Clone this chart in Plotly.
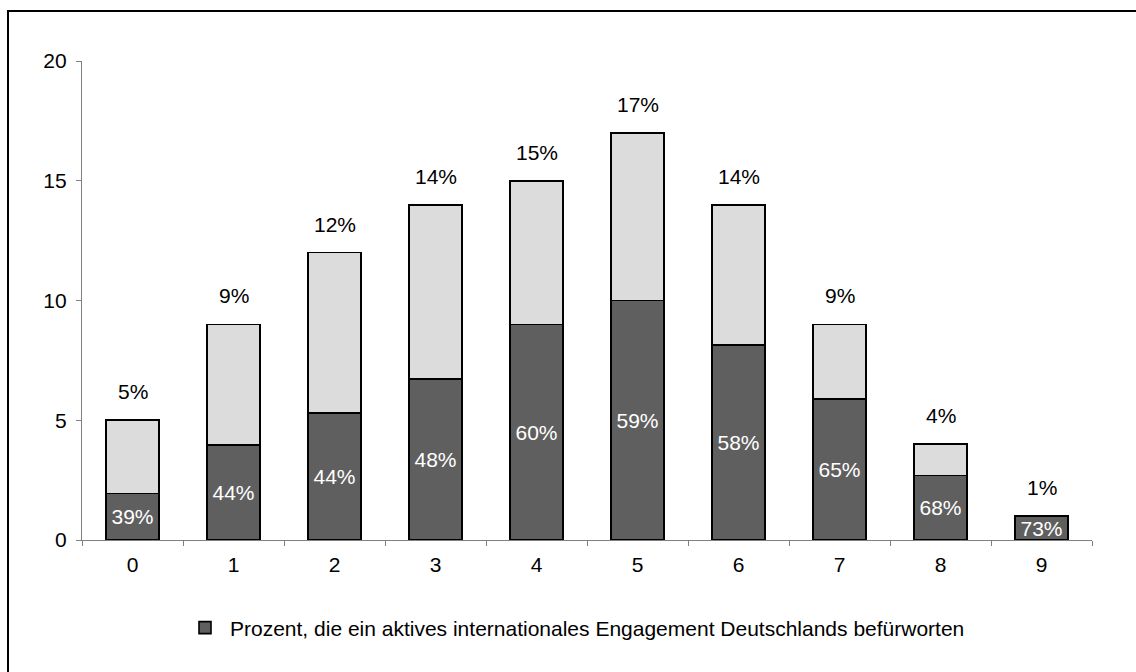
import plotly.graph_objects as go

# Scale points 0..9 with the share of respondents at each point (bar height, %)
categories = ["0", "1", "2", "3", "4", "5", "6", "7", "8", "9"]
total_share = [5, 9, 12, 14, 15, 17, 14, 9, 4, 1]
# Percentage within each group supporting an active international engagement
support_pct = [39, 44, 44, 48, 60, 59, 58, 65, 68, 73]
# Height of the dark segment as drawn
support_height = [1.95, 3.96, 5.3, 6.72, 9.0, 10.0, 8.15, 5.9, 2.7, 1.0]
rest_height = [t - s for t, s in zip(total_share, support_height)]

FONT = "Liberation Sans, Arial, sans-serif"
FS = 21
DARK = "#5f5f5f"
LIGHT = "#dcdcdc"

fig = go.Figure()
fig.add_trace(go.Bar(
    x=categories, y=support_height,
    name="Prozent, die ein aktives internationales Engagement Deutschlands befürworten",
    marker=dict(color=DARK, line=dict(color="black", width=1.6)),
    text=[f"{p}%" for p in support_pct],
    textposition="inside", insidetextanchor="middle",
    textfont=dict(color="white", size=FS, family=FONT),
    constraintext="none",
    hoverinfo="skip",
))
fig.add_trace(go.Bar(
    x=categories, y=rest_height,
    marker=dict(color=LIGHT, line=dict(color="black", width=1.6)),
    showlegend=False, hoverinfo="skip",
))

# Totals above each bar
for c, t in zip(categories, total_share):
    fig.add_annotation(x=c, y=t, text=f"{t}%", showarrow=False,
                       yanchor="bottom", yshift=15,
                       font=dict(size=FS, color="black", family=FONT))

# Outer frame around the whole chart
W, L, R, T, B = 1136, 82, 44, 61, 132
pw, ph = W - L - R, 672 - T - B
fig.add_shape(type="rect", xref="paper", yref="paper",
              x0=(8 - L) / pw, x1=(1150 - L) / pw,
              y0=-(B + 20) / ph, y1=(540 - 11) / ph,
              line=dict(color="black", width=2), fillcolor="rgba(0,0,0,0)")

fig.update_layout(
    width=1136, height=672,
    barmode="stack", bargap=0.48,
    paper_bgcolor="white", plot_bgcolor="white",
    margin=dict(l=L, r=R, t=T, b=B),
    font=dict(family=FONT, size=FS, color="black"),
    showlegend=True,
    legend=dict(x=(180 - L) / pw, y=-(628 - 540) / ph, xanchor="left", yanchor="middle",
                orientation="h", font=dict(size=FS, family=FONT),
                bgcolor="rgba(0,0,0,0)", itemwidth=40),
    xaxis=dict(showline=True, linecolor="#808080", linewidth=1.2,
               ticks="outside", ticklen=5, tickcolor="#808080",
               tickson="boundaries", showgrid=False, zeroline=False,
               ticklabelstandoff=6, tickfont=dict(size=FS)),
    yaxis=dict(range=[0, 20], tickvals=[0, 5, 10, 15, 20],
               showline=True, linecolor="#808080", linewidth=1.2,
               ticks="outside", ticklen=5, tickcolor="#808080",
               showgrid=False, zeroline=False,
               ticklabelstandoff=5, tickfont=dict(size=FS)),
)

fig.write_html("out.html")
